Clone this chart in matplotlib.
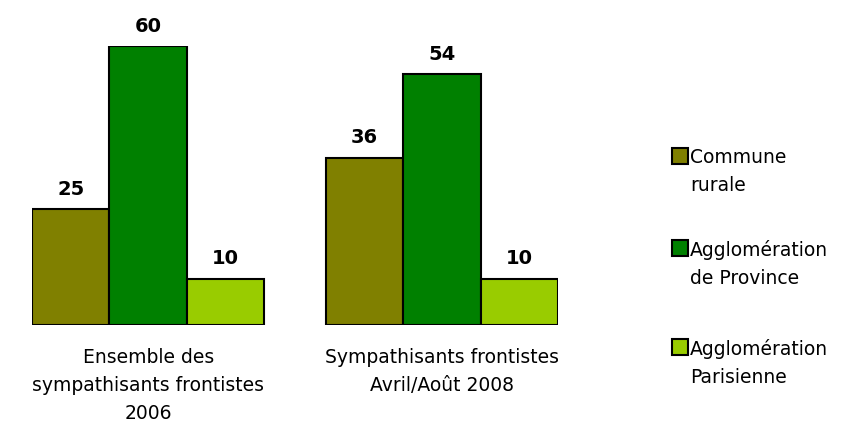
import matplotlib
matplotlib.use("Agg")
import matplotlib.pyplot as plt
from matplotlib.patches import Rectangle
import numpy as np

categories = ["Ensemble des\nsympathisants frontistes\n2006", "Sympathisants frontistes\nAvril/Août 2008"]
series_names = ["Commune\nrurale", "Agglomération\nde Province", "Agglomération\nParisienne"]
commune_rurale = [25, 36]
agglo_province = [60, 54]
agglo_parisienne = [10, 10]
colors = ["#808000", "#008000", "#99CC00"]

W, H = 852, 427
fig = plt.figure(figsize=(W / 100, H / 100), dpi=100)
w = 0.2636
x = np.arange(len(categories))
ax = fig.add_axes([32 / W, 101 / H, (558 - 32) / W, 279 / H])
ax.set_xlim(-1.5 * w, 1 + 1.5 * w)
ax.set_ylim(0, 60)
ax.axis("off")

for i, vals in enumerate([commune_rurale, agglo_province, agglo_parisienne]):
    pos = x + (i - 1) * w
    bars = ax.bar(pos, vals, width=w, color=colors[i], edgecolor="black", linewidth=1.5)
    for b, v in zip(bars, vals):
        ax.annotate(f"{v}", (b.get_x() + b.get_width() / 2, v), xytext=(0, 8),
                    textcoords="offset points", ha="center", va="bottom",
                    fontsize=14, fontweight="bold", clip_on=False)

for xi, c in zip(x, categories):
    ax.annotate(c, (xi, 0), xytext=(0, -16), textcoords="offset points",
                ha="center", va="top", fontsize=13.5, linespacing=1.58)

# legend drawn manually to mimic handle at first line
leg_tops = [149, 241, 340]
for name, col, top in zip(series_names, colors, leg_tops):
    fig.patches.append(Rectangle((672 / W, 1 - (top + 16) / H), 16 / W, 16 / H,
                                 transform=fig.transFigure, facecolor=col,
                                 edgecolor="black", linewidth=1.5))
    fig.text(690 / W, 1 - (top - 1) / H, name, ha="left", va="top", fontsize=13.5,
             linespacing=1.58)

fig.savefig("out.png", dpi=100)
